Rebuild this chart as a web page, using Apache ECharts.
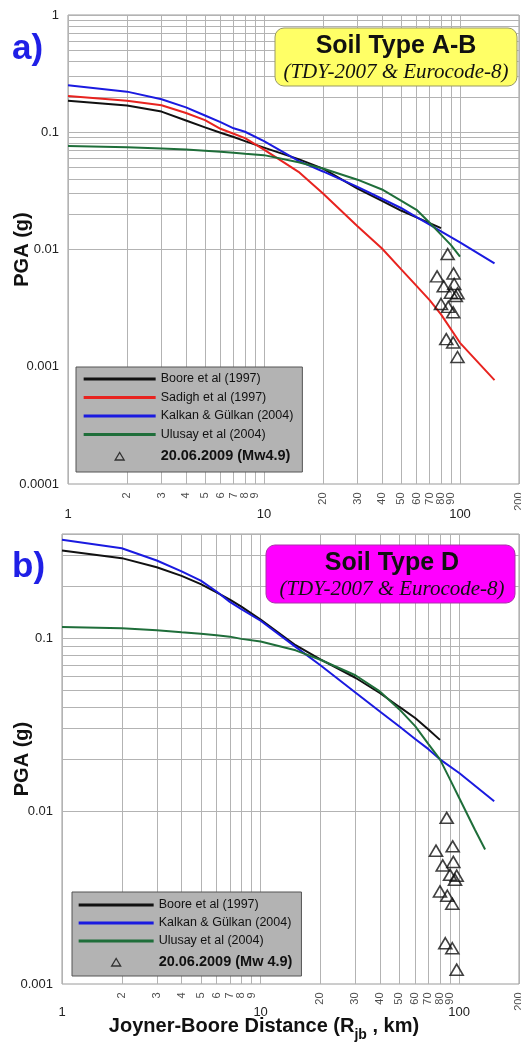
<!DOCTYPE html>
<html><head><meta charset="utf-8">
<script src="https://cdn.jsdelivr.net/npm/echarts@6/dist/echarts.min.js"></script>
<style>html,body{margin:0;padding:0;background:#fff}#c{width:521px;height:1044px}</style>
</head><body><div id="c"></div>
<script>
// ---------- data ----------
const xBooreA  = [1,2,3,4,5,6,7,8,10,15,20,30,40,50,60,70,80];
const booreA   = [0.186,0.169,0.150,0.126,0.110,0.099,0.091,0.084,0.074,0.059,0.049,0.033,0.026,0.0215,0.0188,0.0168,0.0152];
const xSadighA = [1,2,3,4,5,6,7,8,10,15,20,30,40,50,60,70,80,100,150];
const sadighA  = [0.204,0.186,0.170,0.146,0.127,0.107,0.097,0.089,0.071,0.046,0.030,0.0158,0.0102,0.0068,0.0049,0.0037,0.0028,0.0016,0.00077];
const xKalkanA = [1,2,3,4,5,6,7,8,10,15,20,30,40,50,60,70,80,100,150];
const kalkanA  = [0.252,0.222,0.191,0.163,0.139,0.122,0.108,0.101,0.084,0.057,0.0463,0.0342,0.0271,0.0226,0.0189,0.0163,0.0143,0.0115,0.0076];
const xUlusayA = [1,2,3,4,5,6,7,8,10,15,20,30,40,50,60,70,80,90,100];
const ulusayA  = [0.0763,0.0745,0.0728,0.0712,0.0697,0.0683,0.0668,0.0655,0.0638,0.0555,0.049,0.0394,0.0325,0.0261,0.0218,0.0169,0.0134,0.0109,0.0087];

const xBooreB  = [1,2,3,4,5,6,7,8,10,15,20,30,40,50,60,70,80];
const booreB   = [0.321,0.290,0.257,0.229,0.205,0.184,0.167,0.152,0.128,0.091,0.0753,0.059,0.048,0.040,0.0345,0.0296,0.0258];
const xKalkanB = [1,2,3,4,5,6,7,8,10,15,20,30,40,50,60,70,80,100,150];
const kalkanB  = [0.371,0.331,0.281,0.243,0.215,0.186,0.162,0.147,0.126,0.089,0.0697,0.0485,0.0375,0.0308,0.0261,0.0228,0.0199,0.0166,0.0114];
const xUlusayB = [1,2,3,4,5,6,7,8,10,15,20,30,40,50,60,70,80,90,100,120,135];
const ulusayB  = [0.116,0.114,0.111,0.108,0.106,0.104,0.102,0.099,0.0955,0.085,0.075,0.061,0.049,0.0387,0.031,0.0244,0.0199,0.0152,0.0119,0.0078,0.0060];

const obsX = [86.5,92.7,76.4,93.4,82.6,97.1,89.9,95.2,80.0,87.1,92.3,85.1,92.3,97.1];
const obsY = [0.00914,0.00625,0.0059,0.00508,0.00485,0.00423,0.00428,0.00401,0.00343,0.00324,0.00291,0.00172,0.00161,0.00121];

const minorXValues = [2,3,4,5,6,7,8,9,20,30,40,50,60,70,80,90,200];
const minorXLabels = ['2','3','4','5','6','7','8','9','20','30','40','50','60','70','80','90','200'];
const mantissas = [1,2,3,4,5,6,7,8,9];
const xDecades = [1,10,100];
const yDecadesA = [0.0001,0.001,0.01,0.1,1];
const yDecadesB = [0.001,0.01,0.1];

const namesA = ['Boore et al (1997)','Sadigh et al (1997)','Kalkan & Gülkan (2004)','Ulusay et al (2004)','20.06.2009 (Mw4.9)'];
const namesB = ['Boore et al (1997)','Kalkan & Gülkan (2004)','Ulusay et al (2004)','20.06.2009 (Mw 4.9)'];

// ---------- helpers ----------
const F = "'Liberation Sans', Arial, sans-serif";
const BLACK='#111111', RED='#e8231f', BLUE='#1a1ae0', GREEN='#1f6e3a';
function pairs(xs, ys){ return xs.map((x,i)=>[x, ys[i]]); }
function gridValues(decades, maxV){
  const out=[];
  decades.forEach(d=>mantissas.forEach(m=>{const v=Number((m*d).toPrecision(6)); if(v<=maxV*1.0001) out.push(v);}));
  return out;
}
const xMin=1, xMax=200;
const yMinA=0.0001, yMaxA=1, yMinB=0.001, yMaxB=0.4;
const xGrid = gridValues(xDecades, xMax);
const yGridA = gridValues(yDecadesA, yMaxA);
const yGridB = gridValues(yDecadesB, yMaxB);
const fmt = v => String(parseFloat(Number(v).toPrecision(4)));

function gridSeries(idx, yg){
  return {type:'line', xAxisIndex:idx, yAxisIndex:idx, data:[], silent:true, z:1,
    markLine:{silent:true, z:1, symbol:['none','none'], label:{show:false}, animation:false,
      lineStyle:{color:'#b3b3b3', width:1, type:'solid'},
      data: xGrid.map(v=>({xAxis:v})).concat(yg.map(v=>({yAxis:v})))}};
}
function minorLabelSeries(idx, yBottom){
  return {type:'scatter', xAxisIndex:idx, yAxisIndex:idx, silent:true, z:6, symbolSize:1,
    itemStyle:{color:'rgba(0,0,0,0)'}, clip:false,
    label:{show:true, position:'bottom', distance:8, rotate:90, align:'right', verticalAlign:'middle',
      fontFamily:F, fontSize:11, color:'#222', formatter:p=>minorXLabels[p.dataIndex]},
    data: minorXValues.map(v=>[v, yBottom])};
}
function lineS(name, idx, xs, ys, color){
  return {name, type:'line', xAxisIndex:idx, yAxisIndex:idx, data:pairs(xs,ys), symbol:'none',
    showSymbol:false, lineStyle:{color, width:2}, itemStyle:{color}, z:3, silent:true};
}
function obsS(name, idx){
  return {name, type:'scatter', xAxisIndex:idx, yAxisIndex:idx, data:pairs(obsX, obsY),
    symbol:'triangle', symbolSize:[13,11], z:4, silent:true,
    itemStyle:{color:'rgba(0,0,0,0)', borderColor:BLACK, borderWidth:1.6}};
}
function xAxisCfg(idx, margin){
  return {type:'log', logBase:10, gridIndex:idx, min:xMin, max:xMax,
    axisLine:{show:false}, axisTick:{show:false}, splitLine:{show:false},
    axisLabel:{fontFamily:F, fontSize:13, color:'#222', margin, showMaxLabel:false, formatter:fmt}};
}
function yAxisCfg(idx, mn, mx, gap, showMax){
  return {type:'log', logBase:10, gridIndex:idx, min:mn, max:mx,
    name:'PGA (g)', nameLocation:'middle', nameGap:gap, nameMoveOverlap:false,
    nameTextStyle:{fontFamily:F, fontSize:20, fontWeight:'bold', color:'#111'},
    axisLine:{show:false}, axisTick:{show:false}, splitLine:{show:false},
    axisLabel:{fontFamily:F, fontSize:13, color:'#222', margin:9, showMaxLabel:showMax, formatter:fmt}};
}
function legendCfg(left, top, pad, iw, gap, names, colors){
  const last = names.length-1;
  const lineIcon = 'path://M0,0M'+iw+',14M0,5.5h'+iw+'v3h-'+iw+'z';
  const c = iw/2;
  const triIcon = 'path://M0,0M'+iw+',14M'+(c-4.5)+',11L'+c+',3.5L'+(c+4.5)+',11Z';
  return {orient:'vertical', left, top, padding:pad, itemWidth:iw, itemHeight:14, itemGap:gap, z:10,
    backgroundColor:'#b3b3b3', borderColor:'#555', borderWidth:1, selectedMode:false,
    textStyle:{fontFamily:F, fontSize:12.5, color:'#111'},
    data: names.map((n,i)=> i===last ? {name:n, icon:triIcon,
        itemStyle:{color:'rgba(0,0,0,0)', borderColor:'#111', borderWidth:1.3},
        textStyle:{fontWeight:'bold', fontSize:14.5, lineHeight:20}}
      : {name:n, icon:lineIcon, itemStyle:{color:colors[i], borderWidth:0}})};
}

const option = {
  animation:false,
  backgroundColor:'#fff',
  grid:[
    {left:68, top:15, width:451, height:469, outerBoundsMode:'none', containLabel:false, show:true, borderColor:'#9a9a9a', borderWidth:1, backgroundColor:'#fff'},
    {left:62, top:534, width:457, height:450, outerBoundsMode:'none', containLabel:false, show:true, borderColor:'#9a9a9a', borderWidth:1, backgroundColor:'#fff'}
  ],
  xAxis:[xAxisCfg(0, 24), xAxisCfg(1, 22)],
  yAxis:[yAxisCfg(0, yMinA, yMaxA, 36, true), yAxisCfg(1, yMinB, yMaxB, 30, false)],
  legend:[
    legendCfg(76, 367, [5,9,6,7], 72, 4.5, namesA, [BLACK, RED, BLUE, GREEN]),
    legendCfg(72, 892, [6,9,4,6], 75, 4, namesB, [BLACK, BLUE, GREEN])
  ],
  series:[
    gridSeries(0, yGridA), gridSeries(1, yGridB),
    minorLabelSeries(0, yMinA), minorLabelSeries(1, yMinB),
    lineS(namesA[0], 0, xBooreA, booreA, BLACK),
    lineS(namesA[1], 0, xSadighA, sadighA, RED),
    lineS(namesA[2], 0, xKalkanA, kalkanA, BLUE),
    lineS(namesA[3], 0, xUlusayA, ulusayA, GREEN),
    obsS(namesA[4], 0),
    lineS(namesB[0], 1, xBooreB, booreB, BLACK),
    lineS(namesB[1], 1, xKalkanB, kalkanB, BLUE),
    lineS(namesB[2], 1, xUlusayB, ulusayB, GREEN),
    obsS(namesB[3], 1)
  ],
  graphic:[
    {type:'text', left:12, top:32, style:{text:'a)', fill:'#1f1fe6', font:"bold 35px 'Liberation Sans', Arial, sans-serif"}, z:10},
    {type:'text', left:12, top:550, style:{text:'b)', fill:'#1f1fe6', font:"bold 35px 'Liberation Sans', Arial, sans-serif"}, z:10},
    {type:'rect', shape:{x:275, y:28, width:242, height:58, r:9}, style:{fill:'#ffff66', stroke:'#999966', lineWidth:1}, z:10},
    {type:'text', x:396, y:46, style:{text:'Soil Type A-B', align:'center', verticalAlign:'middle', fill:'#111', font:"bold 25px 'Liberation Sans', Arial, sans-serif"}, z:11},
    {type:'text', x:396, y:72, style:{text:'(TDY-2007 & Eurocode-8)', align:'center', verticalAlign:'middle', fill:'#111', font:"italic 21px 'Liberation Serif', 'Times New Roman', serif"}, z:11},
    {type:'rect', shape:{x:266, y:545, width:249, height:58, r:9}, style:{fill:'#ff00ff', stroke:'#aa33aa', lineWidth:1}, z:10},
    {type:'text', x:392, y:563, style:{text:'Soil Type D', align:'center', verticalAlign:'middle', fill:'#111', font:"bold 25px 'Liberation Sans', Arial, sans-serif"}, z:11},
    {type:'text', x:392, y:589, style:{text:'(TDY-2007 & Eurocode-8)', align:'center', verticalAlign:'middle', fill:'#111', font:"italic 21px 'Liberation Serif', 'Times New Roman', serif"}, z:11},
    {type:'text', x:264, y:1029, z:11, style:{
      text:'{a|Joyner-Boore Distance (R}{s|jb}{a| , km)}', align:'center', verticalAlign:'middle',
      rich:{a:{fontFamily:F, fontSize:20, fontWeight:'bold', fill:'#111', lineHeight:26, verticalAlign:'top'},
            s:{fontFamily:F, fontSize:14, fontWeight:'bold', fill:'#111', lineHeight:12, verticalAlign:'bottom'}}}}
  ]
};
const chart = echarts.init(document.getElementById('c'), null, {renderer:'canvas'});
chart.setOption(option);
</script></body></html>
